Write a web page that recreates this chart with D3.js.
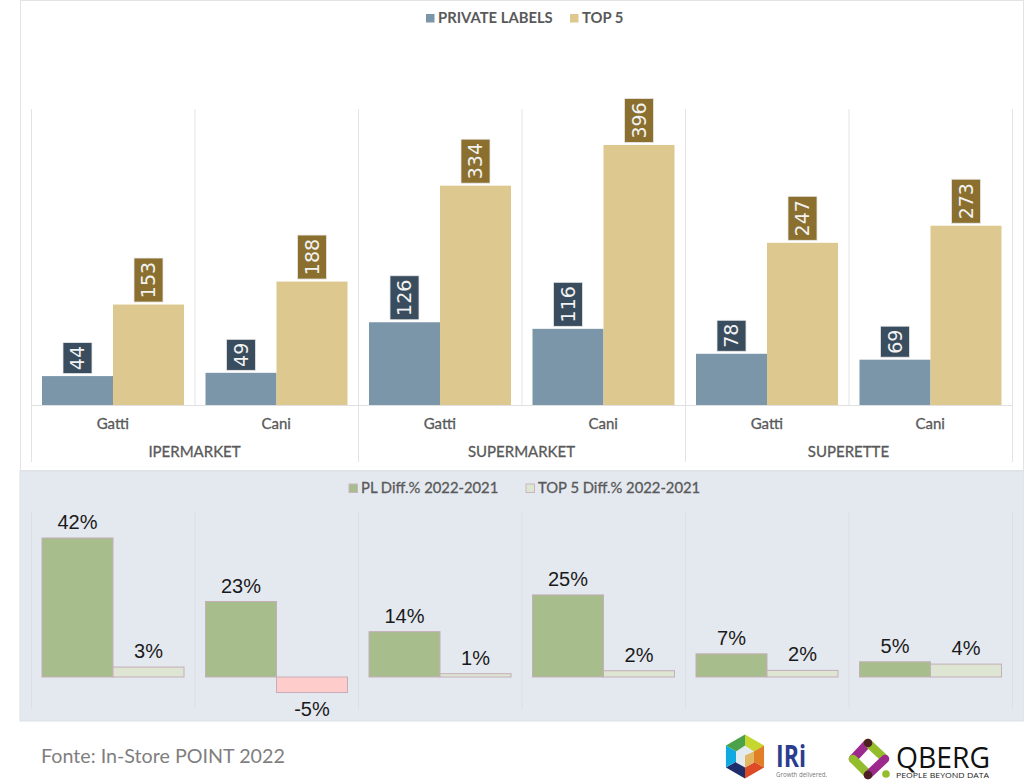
<!DOCTYPE html>
<html>
<head>
<meta charset="utf-8">
<script src="https://cdn.jsdelivr.net/npm/d3@7"></script>
<style>
html, body { margin: 0; padding: 0; background: #fff; }
svg { display: block; }
</style>
</head>
<body>
<div id="chart"></div>
<script>
/* DATA */
const channels = ["IPERMARKET", "SUPERMARKET", "SUPERETTE"]
const pets = ["Gatti", "Cani", "Gatti", "Cani", "Gatti", "Cani"]
const privateLabels = [44, 49, 126, 116, 78, 69]
const top5 = [153, 188, 334, 396, 247, 273]
const plDiff = [42, 22.8, 13.7, 24.8, 7, 4.6]
const top5Diff = [3, -4.7, 1, 1.9, 2, 3.9]
const legendTop = ["PRIVATE LABELS", "TOP 5"]
const legendBottom = ["PL Diff.% 2022-2021", "TOP 5 Diff.% 2022-2021"]
const source = "Fonte: In-Store POINT 2022"

const LATO = "Lato, 'Open Sans', sans-serif"
const GREY = "#595959"
const idx = d3.range(pets.length)

const svg = d3.select("#chart").append("svg")
    .attr("width", 1024)
    .attr("height", 784)

/* PANELS */
svg.append("rect").attr("x", 20.5).attr("y", 0.5).attr("width", 1003).attr("height", 470)
    .attr("fill", "#fff").attr("stroke", "#e3e3e3")
svg.append("rect").attr("x", 20).attr("y", 471).attr("width", 1004).attr("height", 250)
    .attr("fill", "#e4e8ef").attr("stroke", "#dde0e6")

// scales shared by the two charts
const x = d3.scaleBand().domain(idx).range([31, 1012])
const pad = 11
const barW = (x.bandwidth() - 21.5) / 2
const y = d3.scaleLinear().domain([0, 450]).range([405, 109.5])
const yDiff = d3.scaleLinear().domain([0, 42]).range([677, 538])

/* TOP CHART */
const topChart = svg.append("g")

function separators(g, ids, y1, y2, color) {
    // ids run one past the last band, so that the closing line is drawn too
    const sepX = d => x(0) + d * x.step() + 0.5
    g.selectAll(null).data(ids).enter().append("line")
        .attr("x1", sepX).attr("x2", sepX)
        .attr("y1", y1).attr("y2", y2)
        .attr("stroke", color)
}

separators(topChart, d3.range(7), 109, 405, "#e3e3e3")
separators(topChart, [0, 2, 4, 6], 405, 462, "#e3e3e3")
topChart.append("line").attr("x1", 31).attr("x2", 1012).attr("y1", 405.5).attr("y2", 405.5).attr("stroke", "#e0e0e0")

topChart.selectAll(".pl").data(idx).enter().append("rect")
    .attr("x", d => x(d) + pad)
    .attr("y", d => y(privateLabels[d]))
    .attr("width", barW)
    .attr("height", d => y(0) - y(privateLabels[d]))
    .attr("fill", "#7b95a9")

topChart.selectAll(".t5").data(idx).enter().append("rect")
    .attr("x", d => x(d) + pad + barW)
    .attr("y", d => y(top5[d]))
    .attr("width", barW)
    .attr("height", d => y(0) - y(top5[d]))
    .attr("fill", "#ddc890")

// rotated value labels in dark boxes
function valueLabel(cx, barTop, value, fill) {
    const boxH = String(value).length === 2 ? 31 : 44
    const g = topChart.append("g")
    g.append("rect")
        .attr("x", cx - 14.5).attr("y", barTop - 2.5 - boxH)
        .attr("width", 29).attr("height", boxH)
        .attr("fill", fill).attr("stroke", "#e8e8e8").attr("stroke-width", 0.8)
    g.append("text")
        .attr("transform", `translate(${cx},${barTop - 2.5 - boxH / 2}) rotate(-90)`)
        .attr("text-anchor", "middle").attr("dy", "0.36em")
        .attr("font-family", "'DejaVu Sans', sans-serif").attr("font-size", 19)
        .attr("fill", "#f2f2f2")
        .text(value)
}
idx.forEach(i => {
    valueLabel(x(i) + pad + barW / 2, y(privateLabels[i]), privateLabels[i], "#3a4d5e")
    valueLabel(x(i) + pad + barW * 1.5, y(top5[i]), top5[i], "#8a6f2e")
})

topChart.selectAll(".pet").data(idx).enter().append("text")
    .attr("x", d => x(d) + x.bandwidth() / 2).attr("y", 429)
    .attr("text-anchor", "middle")
    .attr("font-family", LATO).attr("font-size", 15).attr("fill", GREY)
    .attr("stroke", GREY).attr("stroke-width", 0.3)
    .text(d => pets[d])

topChart.selectAll(".channel").data(channels).enter().append("text")
    .attr("x", (d, i) => x(i * 2) + x.bandwidth()).attr("y", 457)
    .attr("text-anchor", "middle")
    .attr("font-family", LATO).attr("font-size", 15).attr("fill", GREY)
    .attr("stroke", GREY).attr("stroke-width", 0.3)
    .text(d => d)

/* LEGENDS */
function legend(items, swatches, xs, yy, weight, strokes) {
    items.forEach((t, i) => {
        svg.append("rect").attr("x", xs[i]).attr("y", yy - 9).attr("width", 8.5).attr("height", 8.5)
            .attr("fill", swatches[i]).attr("stroke", strokes ? strokes[i] : "none")
        svg.append("text").attr("x", xs[i] + 12).attr("y", yy)
            .attr("font-family", LATO).attr("font-size", 14.8).attr("font-weight", weight)
            .attr("fill", GREY).attr("stroke", GREY).attr("stroke-width", weight === 400 ? 0.3 : 0)
            .text(t)
    })
}
legend(legendTop, ["#7b95a9", "#ddc890"], [426, 570], 23, 700)
legend(legendBottom, ["#a8bd8c", "#dfe5d3"], [349, 526], 493, 400, ["#c9b5c0", "#c9b5c0"])

/* BOTTOM CHART */
const bottom = svg.append("g")
separators(bottom, d3.range(7), 512, 709, "#dcdfe5")

bottom.selectAll(".pl").data(idx).enter().append("rect")
    .attr("x", d => x(d) + pad)
    .attr("y", d => yDiff(plDiff[d]))
    .attr("width", barW)
    .attr("height", d => yDiff(0) - yDiff(plDiff[d]))
    .attr("fill", "#a8bd8c").attr("stroke", "#c4aeb9")

bottom.selectAll(".t5").data(idx).enter().append("rect")
    .attr("x", d => x(d) + pad + barW)
    .attr("y", d => Math.min(yDiff(top5Diff[d]), yDiff(0)))
    .attr("width", barW)
    .attr("height", d => Math.abs(yDiff(0) - yDiff(top5Diff[d])))
    .attr("fill", d => top5Diff[d] < 0 ? "#ffcccc" : "#dfe5d3")
    .attr("stroke", "#c4aeb9")

const pct = v => Math.round(v) + "%"
function diffLabels(values, offset) {
    bottom.selectAll(null).data(idx).enter().append("text")
        .attr("x", d => x(d) + pad + barW * offset)
        .attr("y", d => values[d] < 0 ? yDiff(values[d]) + 23 : yDiff(values[d]) - 9)
        .attr("text-anchor", "middle")
        .attr("font-family", "'Liberation Sans', Arial, sans-serif").attr("font-size", 20)
        .attr("fill", "#1a1a1a")
        .text(d => pct(values[d]))
}
diffLabels(plDiff, 0.5)
diffLabels(top5Diff, 1.5)

/* FOOTER */
svg.append("text").attr("x", 41).attr("y", 763)
    .attr("font-family", LATO).attr("font-size", 19.7).attr("fill", "#7f7f7f")
    .text(source)

/* LOGOS */
const iri = svg.append("g").attr("transform", "translate(745,756.5)")
const hexR = 22
const hexColors = ["#c5d62e", "#e07f26", "#dd4b26", "#1f2d6b", "#11a9e2", "#4ca24a"]
const hex = i => {
    const a = -Math.PI / 2 + i * Math.PI / 3
    return [hexR * Math.cos(a), hexR * Math.sin(a)]
}
hexColors.forEach((c, i) => {
    iri.append("path").attr("d", d3.line()([[0, 0], hex(i), hex(i + 1)])).attr("fill", c)
})
iri.append("path").attr("d", "M0,-11L9,-5V6L0,11L-9,6V-5Z").attr("fill", "#e4ebee")
iri.append("path").attr("d", "M0,-1L9,-5V6L0,11Z").attr("fill", "#e2b763")
svg.append("text").attr("x", 776).attr("y", 767)
    .attr("font-family", "'Open Sans', sans-serif").attr("font-weight", 700).attr("font-size", 30)
    .attr("textLength", 30).attr("lengthAdjust", "spacingAndGlyphs")
    .attr("fill", "#2b3d8f").text("IRi")
svg.append("text").attr("x", 776).attr("y", 777)
    .attr("font-family", "'Open Sans', sans-serif").attr("font-size", 6.5).attr("textLength", 51)
    .attr("lengthAdjust", "spacingAndGlyphs")
    .attr("fill", "#777").text("Growth delivered.")

const qb = svg.append("g").attr("transform", "translate(869,759)")
const bar = (a, b, c) => qb.append("line")
    .attr("x1", a[0]).attr("y1", a[1]).attr("x2", b[0]).attr("y2", b[1])
    .attr("stroke", c).attr("stroke-width", 8.5).attr("stroke-linecap", "round")
bar([-16, 0], [-2, -15], "#9c2a8c")
bar([-16, 0], [-1, 15], "#93bd2b")
bar([-1, -16], [15, -1], "#93bd2b")
bar([16, 0], [-1, 16], "#9c2a8c")
qb.append("circle").attr("cx", -1).attr("cy", -16).attr("r", 4.3).attr("fill", "#4c1f24")
qb.append("circle").attr("cx", -1).attr("cy", 16).attr("r", 4.3).attr("fill", "#4c1f24")
qb.append("circle").attr("cx", 17).attr("cy", 15).attr("r", 3.8).attr("fill", "#93bd2b")
svg.append("text").attr("x", 896).attr("y", 768)
    .attr("font-family", "'Open Sans', sans-serif").attr("font-size", 29.5).attr("textLength", 94)
    .attr("lengthAdjust", "spacingAndGlyphs").attr("fill", "#111").text("QBERG")
svg.append("text").attr("x", 896).attr("y", 778)
    .attr("font-family", "'Open Sans', sans-serif").attr("font-size", 8).attr("textLength", 93)
    .attr("lengthAdjust", "spacingAndGlyphs")
    .attr("fill", "#222").text("PEOPLE BEYOND DATA")
</script>
</body>
</html>
